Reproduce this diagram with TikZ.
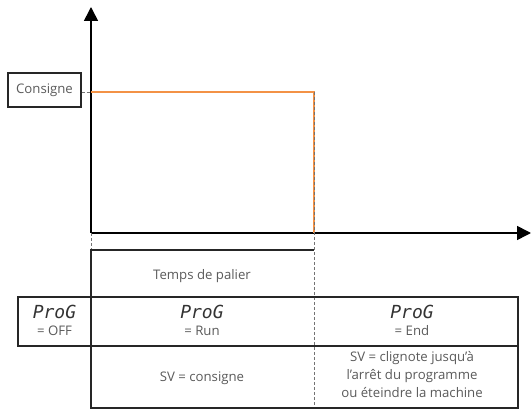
\documentclass[tikz,border=0pt]{standalone}
\usepackage{fontspec}
\setmainfont{Open Sans}
\newfontfamily\segfont{DejaVu Sans Mono}
\usetikzlibrary{calc,arrows.meta}

\definecolor{txtgray}{RGB}{90,90,90}
\definecolor{setorange}{RGB}{243,146,70}

\tikzset{
	lbl/.style={text=txtgray, font=\fontsize{13.2}{18}\selectfont, align=center, inner sep=0pt},
	seg/.style={text=black!80, font=\segfont\itshape\fontsize{18}{18}\selectfont, inner sep=0pt},
	frame/.style={line width=1.3pt, draw=black!85},
	guide/.style={line width=0.9pt, draw=black!55, dash pattern=on 3pt off 2pt},
	setpt/.style={line width=1.6pt, draw=setorange},
}

\begin{document}
\begin{tikzpicture}[x=1pt, y=-1pt, >={Triangle[length=14pt,width=14pt]}]

	\useasboundingbox (0,0) rectangle (531,409);

	\def\xa{91}  % start of the plateau
	\def\xb{314} % end of the plateau
	\def\yc{92}  % set point level

	\coordinate (O) at (\xa,233);
	\coordinate (Xend) at (531,233);
	\coordinate (Yend) at (\xa,7);
	\coordinate (C) at (\xa,\yc);
	\coordinate (E) at (\xb,\yc);
	\coordinate (Eb) at (\xb,233);
	\coordinate (Ab) at (\xa,409);
	\coordinate (Bb) at (\xb,409);

	% axes
	\draw[->, line width=1.6pt] (O) -- (Yend);
	\draw[->, line width=1.6pt] (O) -- (Xend);

	% set point
	\node[lbl, draw=black!85, line width=1.2pt, minimum width=73pt, minimum height=34pt]
	(cons) at (44.5,90) {Consigne};
	\draw[guide] (cons.east |- C) -- (C);
	\draw[setpt] (C) -- (E) -- (Eb);

	% time guides
	\draw[guide] (E) -- (Bb);
	\draw[guide] (O) -- (Ab);

	% plateau box
	\draw[frame] (\xa,408) -- (\xa,250) -- (\xb,250);

	% state row
	\draw[frame] (18,297) rectangle (518,346);
	\draw[frame] (\xa,346) -- (\xa,408) -- (518,408) -- (518,346);

	% labels
	\node[lbl] (palier) at (202,276) {Temps de palier};

	\node[seg] (progoff) at (54.5,312) {ProG};
	\node[lbl] (off) at (54.5,331) {= OFF};

	\node[seg] (progrun) at (202,312) {ProG};
	\node[lbl] (run) at (202,331) {= Run};

	\node[seg] (progend) at (412,312) {ProG};
	\node[lbl] (fin) at (412,331) {= End};

	\node[lbl] (svrun) at (202,378) {SV = consigne};
	\node[lbl] (svend) at (412,375)
	{SV = clignote jusqu'à\\l'arrêt du programme\\ou éteindre la machine};

\end{tikzpicture}
\end{document}
